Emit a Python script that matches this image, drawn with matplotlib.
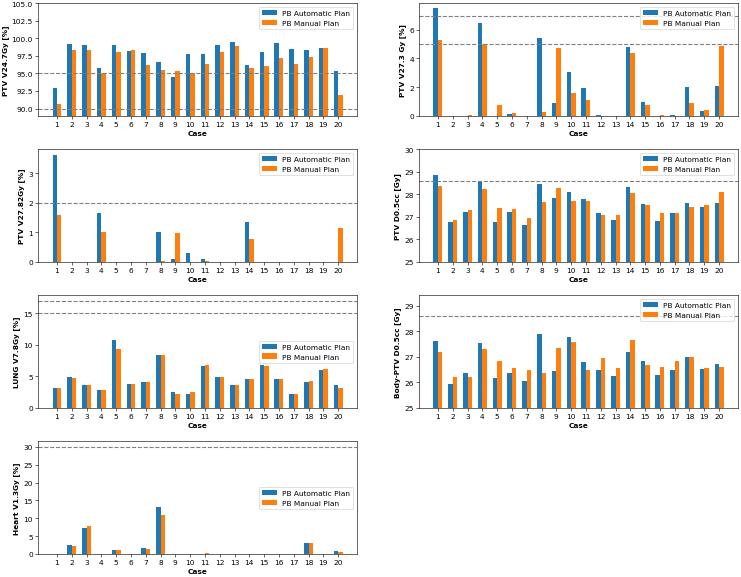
import numpy as np
import matplotlib
matplotlib.use('Agg')
import matplotlib.pyplot as plt

cases = list(range(1, 21))

# PTV V24.7Gy [%]
ptv_v247_auto = [92.9, 99.2, 99.0, 95.8, 99.1, 98.2, 97.9, 96.6, 94.5, 97.8,
                 97.8, 99.1, 99.4, 96.2, 98.1, 99.3, 98.5, 98.3, 98.6, 95.4]
ptv_v247_manual = [90.6, 98.3, 98.4, 95.0, 98.1, 98.4, 96.2, 95.5, 95.3, 95.0,
                   96.4, 98.0, 98.9, 95.7, 96.0, 97.2, 96.4, 97.4, 98.6, 92.0]

# PTV V27.3 Gy [%]
ptv_v273_auto = [7.5, 0, 0, 6.5, 0, 0.08, 0, 5.45, 0.85, 3.05,
                 1.9, 0.04, 0, 4.8, 0.95, 0, 0.03, 1.97, 0.3, 2.05]
ptv_v273_manual = [5.3, 0, 0.03, 5.0, 0.75, 0.2, 0, 0.28, 4.75, 1.6,
                   1.1, 0, 0, 4.4, 0.75, 0.03, 0, 0.88, 0.38, 4.9]

# PTV V27.82Gy [%]
ptv_v2782_auto = [3.63, 0, 0, 1.65, 0, 0, 0, 1.01, 0.09, 0.28,
                  0.08, 0, 0, 1.33, 0, 0, 0, 0, 0, 0]
ptv_v2782_manual = [1.58, 0, 0, 1.02, 0, 0, 0, 0.03, 0.96, 0,
                    0.01, 0, 0, 0.78, 0, 0, 0, 0, 0, 1.13]

# PTV D0.5cc [Gy]
ptv_d05_auto = [28.87, 26.78, 27.2, 28.55, 26.78, 27.22, 26.62, 28.45, 27.83, 28.08,
                27.8, 27.15, 26.87, 28.3, 27.58, 26.83, 27.18, 27.6, 27.42, 27.62]
ptv_d05_manual = [28.38, 26.85, 27.28, 28.25, 27.38, 27.33, 26.93, 27.65, 28.28, 27.7,
                  27.68, 27.07, 27.08, 28.07, 27.5, 27.17, 27.15, 27.45, 27.53, 28.08]

# LUNG V7.8Gy [%]
lung_auto = [3.2, 4.9, 3.6, 2.8, 10.7, 3.75, 4.15, 8.4, 2.5, 2.25,
             6.6, 4.9, 3.65, 4.55, 6.75, 4.55, 2.25, 4.15, 6.0, 3.55]
lung_manual = [3.2, 4.8, 3.6, 2.8, 9.4, 3.8, 4.1, 8.45, 2.2, 2.5,
               6.75, 4.9, 3.65, 4.6, 6.6, 4.5, 2.25, 4.25, 6.1, 3.1]

# Body-PTV D0.5cc [Gy]
body_auto = [27.63, 25.93, 26.38, 27.52, 26.15, 26.38, 26.07, 27.9, 26.45, 27.78,
             26.8, 26.5, 26.25, 27.2, 26.83, 26.3, 26.47, 27.0, 26.52, 26.73]
body_manual = [27.2, 26.22, 26.22, 27.32, 26.82, 26.55, 26.47, 26.38, 27.33, 27.57,
               26.5, 26.93, 26.55, 27.65, 26.68, 26.6, 26.82, 27.0, 26.57, 26.6]

# Heart V1.3Gy [%]
heart_auto = [0, 2.5, 7.3, 0, 1.1, 0, 1.6, 13.2, 0, 0,
              0, 0, 0, 0, 0, 0, 0, 3.2, 0, 0.7]
heart_manual = [0, 2.2, 7.7, 0, 1.0, 0, 1.4, 11.0, 0, 0,
                0.15, 0, 0, 0, 0, 0, 0, 3.1, 0, 0.6]

panels = [
    ('PTV V24.7Gy [%]', ptv_v247_auto, ptv_v247_manual, [95, 90], (89, 105), 'upper right'),
    ('PTV V27.3 Gy [%]', ptv_v273_auto, ptv_v273_manual, [7, 5], (0, 7.875), 'upper right'),
    ('PTV V27.82Gy [%]', ptv_v2782_auto, ptv_v2782_manual, [2], (0, 3.81), 'upper right'),
    ('PTV D0.5cc [Gy]', ptv_d05_auto, ptv_d05_manual, [28.6], (25, 30), 'upper right'),
    ('LUNG V7.8Gy [%]', lung_auto, lung_manual, [17, 15], (0, 17.85), 'center right'),
    ('Body-PTV D0.5cc [Gy]', body_auto, body_manual, [28.6], (25, 29.4), 'upper right'),
    ('Heart V1.3Gy [%]', heart_auto, heart_manual, [30], (0, 31.5), 'center right'),
]

fig, axes = plt.subplots(4, 2, figsize=(14, 10.92))
plt.subplots_adjust(left=0.0513, right=0.996, top=0.993, bottom=0.0398,
                    wspace=0.194, hspace=0.298)

x = np.array(cases)
width = 0.3
for ax, (label, auto, manual, lines, ylim, loc) in zip(axes.flat, panels):
    ax.bar(x - width / 2, auto, width, label='PB Automatic Plan')
    ax.bar(x + width / 2, manual, width, label='PB Manual Plan')
    for y in lines:
        ax.axhline(y, color='gray', linestyle='--')
    ax.set_ylim(ylim)
    ax.set_xticks(x)
    ax.set_xlabel('Case', fontweight='bold')
    ax.set_ylabel(label, fontweight='bold')
    ax.legend(loc=loc)

axes[3, 1].axis('off')

plt.savefig('out.png', dpi=741 / 14)
